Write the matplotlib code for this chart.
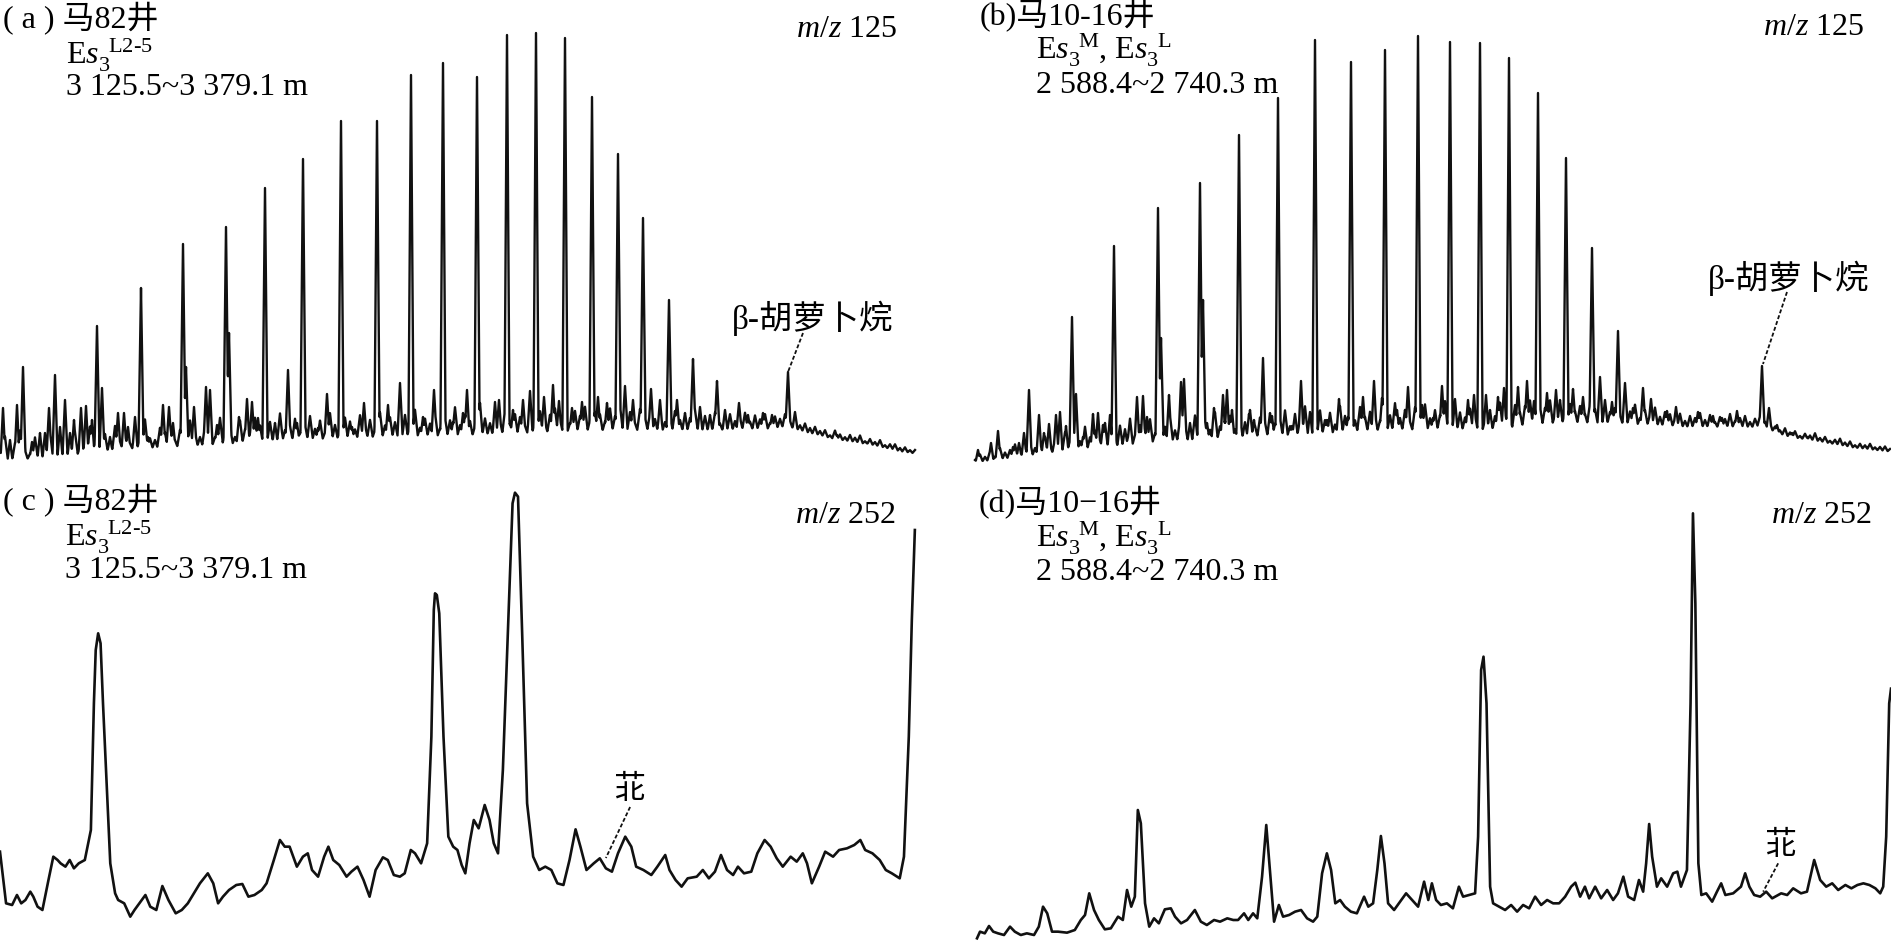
import numpy as np
import matplotlib.pyplot as plt

plt.rcParams['font.family'] = ['Liberation Serif', 'Noto Sans CJK SC']
plt.rcParams['mathtext.fontset'] = 'custom'
plt.rcParams['mathtext.rm'] = 'Liberation Serif'
plt.rcParams['mathtext.it'] = 'Liberation Serif:italic'

# ---------------- (a) 马82井 m/z 125 ----------------
a_base_x = [0, 67, 133, 200, 267, 333, 400, 470, 570, 637, 703, 770, 787, 803, 837, 870, 903, 915]
a_base_y = [8, 13, 20, 23, 27, 30, 32, 33, 37, 38, 38, 40, 42, 38, 30, 25, 18, 16]
a_major_x = [23, 55, 97, 141, 183, 226, 265, 303, 341, 377, 411, 443, 477, 507, 536, 565, 592, 618, 643, 669, 693, 717, 788]
a_major_y = [103, 95, 144, 182, 226, 243, 282, 311, 349, 349, 395, 407, 393, 435, 437, 432, 373, 316, 252, 170, 111, 89, 98]
a_noise_x = [3, 10, 17, 32, 40, 45, 49, 60, 65, 70, 74, 81, 86, 92, 102, 110, 118, 124, 128, 135, 148, 163, 169, 173,
             186, 194, 206, 210, 217, 229, 239, 247, 252, 258, 275, 281, 288, 297, 318, 327, 352, 364, 388, 400, 423,
             434, 453, 463, 467, 480, 495, 499, 513, 523, 530, 544, 553, 559, 572, 582, 598, 607, 625, 633, 651, 660,
             677, 685, 700, 710, 725, 739, 748, 763, 772, 795, 810, 837, 867, 900]
a_noise_y = [62, 30, 65, 28, 37, 37, 62, 43, 70, 37, 50, 62, 64, 50, 82, 33, 57, 57, 43, 53, 33, 65, 63, 47,
             103, 63, 83, 80, 45, 137, 53, 71, 68, 52, 47, 44, 100, 47, 42, 76, 43, 67, 65, 87, 53,
             80, 48, 57, 80, 67, 68, 70, 60, 70, 79, 73, 85, 69, 62, 68, 73, 67, 84, 70, 81, 70,
             70, 57, 63, 55, 60, 67, 55, 57, 55, 58, 42, 35, 27, 22]
# fine background jitter above the baseline, one value per 5 scans from scan 0
a_fine = [12, 25, 8, 18, 30, 10, 6, 22, 15, 9, 27, 14, 7, 20, 11, 24, 9, 16, 28, 12,
          8, 19, 13, 26, 10, 17, 7, 23, 14, 30, 11, 9, 21, 16, 25, 8, 18, 12, 27, 15,
          10, 22, 17, 9, 28, 13, 19, 8, 24, 15, 11, 26, 18, 9, 21, 14, 29, 12, 16, 23,
          9, 17, 25, 12, 20, 8, 27, 15, 11, 22, 18, 10, 24, 14, 19, 9, 26, 13, 21, 16,
          11, 23, 15, 28, 10, 19, 14, 25, 9, 20, 17, 30, 12, 22, 16, 11, 27, 18, 13, 24,
          15, 26, 12, 21, 18, 9, 28, 16, 23, 11, 19, 25, 14, 29, 10, 22, 17, 26, 13, 20,
          18, 11, 24, 16, 27, 12, 20, 9, 23, 15, 19, 13, 25, 10, 17, 21, 12, 18, 14, 22,
          9, 16, 12, 19, 8, 14, 17, 10, 13, 18, 9, 15, 11, 16, 7, 13, 10, 14, 8, 12,
          6, 9, 4, 8, 5, 7, 3, 9, 6, 4, 7, 5, 8, 3, 6, 4, 7, 3, 5, 6, 2, 5, 3, 4]

# ---------------- (b) 马10-16井 m/z 125 ----------------
b_base_x = [25, 77, 110, 143, 177, 210, 277, 343, 410, 490, 537, 603, 670, 737, 803, 810, 837, 870, 903, 940]
b_base_y = [7, 13, 17, 20, 23, 27, 30, 33, 37, 39, 38, 45, 45, 42, 42, 43, 33, 28, 22, 18]
b_major_x = [79, 122, 164, 208, 250, 289, 328, 365, 401, 435, 468, 500, 530, 559, 588, 616, 642, 668, 812]
b_major_y = [80, 153, 224, 262, 287, 335, 372, 430, 408, 420, 434, 428, 427, 412, 377, 312, 222, 139, 104]
b_noise_x = [28, 41, 48, 63, 69, 74, 89, 94, 99, 106, 110, 116, 126, 133, 143, 148, 153, 160, 170, 178, 187, 193,
             197, 211, 219, 231, 234, 240, 253, 257, 264, 273, 277, 282, 299, 304, 313, 322, 342, 351, 360, 377,
             389, 398, 413, 424, 432, 447, 458, 472, 483, 492, 505, 510, 518, 524, 536, 540, 548, 554, 568, 577,
             584, 597, 606, 610, 623, 633, 650, 655, 662, 675, 683, 693, 701, 717, 726, 748, 763, 772, 787, 795,
             819, 827, 842, 857, 895]
b_noise_y = [20, 27, 39, 23, 27, 37, 55, 37, 46, 55, 58, 44, 76, 33, 56, 57, 45, 55, 37, 33, 73, 74,
             53, 132, 75, 88, 91, 47, 170, 47, 62, 75, 80, 60, 56, 50, 112, 54, 44, 89, 58, 50,
             71, 53, 73, 89, 72, 60, 83, 65, 52, 84, 71, 55, 70, 75, 75, 60, 73, 82, 83, 89,
             69, 77, 80, 70, 81, 73, 93, 70, 68, 87, 62, 82, 71, 59, 63, 58, 54, 52, 59, 53,
             62, 45, 37, 33, 27]
# fine background jitter, one value per 5 scans from scan 25
b_fine = [3, 8, 5, 10, 4, 12, 7, 9, 14, 6, 11, 16, 8, 13, 18, 9, 15, 11, 20, 12,
          17, 10, 24, 13, 19, 9, 26, 15, 12, 22, 18, 28, 11, 20, 14, 25, 10, 21, 16, 27,
          12, 23, 18, 9, 26, 15, 20, 11, 28, 14, 19, 24, 10, 22, 17, 29, 13, 21, 16, 25,
          14, 20, 27, 11, 23, 17, 30, 12, 19, 25, 15, 22, 10, 28, 18, 24, 13, 26, 16, 21,
          19, 12, 26, 17, 29, 14, 22, 10, 24, 18, 27, 13, 21, 16, 30, 11, 25, 19, 14, 23,
          17, 26, 12, 21, 15, 28, 19, 11, 24, 16, 22, 27, 13, 20, 18, 25, 10, 23, 15, 21,
          14, 19, 11, 22, 16, 9, 20, 13, 17, 10, 18, 14, 21, 8, 16, 12, 19, 10, 15, 13,
          9, 14, 7, 12, 10, 15, 8, 13, 6, 11, 9, 14, 7, 10, 12, 6, 9, 11, 7, 8,
          6, 4, 8, 5, 7, 3, 6, 5, 8, 4, 6, 3, 5, 7, 4, 6, 3, 5, 4, 6, 3, 4, 5, 3]

# ---------------- (c) 马82井 m/z 252 ----------------
c_x = [0, 10, 20, 28, 35, 42, 50, 55, 62, 70, 80, 88, 95, 100, 108, 115, 122, 130, 140, 150, 155, 158, 162, 166,
       170, 175, 182, 190, 195, 205, 215, 222, 230, 240, 248, 258, 268, 278, 290, 300, 310, 320, 330, 343, 352,
       360, 368, 378, 390, 400, 410, 420, 432, 440, 452, 462, 470, 478, 490, 500, 508, 515, 525, 535, 542, 550,
       560, 572, 580, 590, 600, 610, 620, 632, 640, 650, 660, 668, 678, 685, 695, 705, 712, 716, 718, 721, 725,
       732, 740, 748, 755, 762, 768, 775, 782, 790, 800, 808, 815, 822, 830, 840, 846, 850, 855, 862, 870, 880,
       890, 900, 910, 920, 930, 940, 950, 958, 968, 980, 990, 1000, 1010, 1020, 1032, 1042, 1050, 1062, 1075,
       1085, 1098, 1105, 1115, 1125, 1135, 1150, 1160, 1170, 1180, 1190, 1200, 1210, 1218, 1228, 1240, 1250,
       1262, 1272, 1282, 1292, 1305, 1315, 1325, 1332, 1340, 1352, 1362, 1375, 1385, 1398, 1410, 1420, 1428,
       1440, 1452, 1462, 1472, 1485, 1492, 1500, 1505, 1510]
c_y = [271, 116, 111, 141, 116, 126, 151, 136, 106, 96, 186, 256, 246, 236, 226, 246, 221, 236, 246, 336, 716, 876,
       926, 896, 716, 516, 236, 146, 126, 116, 76, 96, 116, 141, 106, 96, 168, 126, 86, 96, 116, 146, 176, 206,
       176, 116, 136, 156, 171, 174, 136, 141, 156, 176, 246, 306, 286, 286, 226, 256, 266, 216, 196, 256, 286,
       246, 231, 196, 211, 226, 186, 136, 216, 254, 246, 201, 196, 206, 276, 266, 236, 296, 616, 996, 1046, 1041,
       986, 616, 316, 286, 276, 231, 206, 296, 366, 341, 411, 366, 296, 266, 516, 1016, 1316, 1348, 1336, 916,
       416, 256, 216, 226, 216, 176, 171, 246, 338, 286, 216, 236, 251, 221, 211, 266, 316, 286, 226, 216, 201,
       226, 261, 216, 186, 166, 191, 196, 216, 191, 211, 261, 216, 201, 226, 206, 211, 266, 306, 286, 251, 226,
       256, 241, 266, 236, 176, 226, 271, 256, 276, 281, 291, 306, 276, 266, 246, 216, 206, 191, 256, 616, 966,
       1236]

# ---------------- (d) 马10-16井 m/z 252 ----------------
d_x = [45, 50, 58, 65, 72, 80, 90, 100, 108, 118, 128, 140, 148, 155, 162, 170, 180, 195, 208, 218, 225, 232, 240,
       248, 258, 268, 280, 288, 295, 302, 308, 313, 318, 325, 332, 340, 348, 358, 368, 375, 385, 395, 408, 418,
       428, 440, 450, 462, 472, 480, 490, 497, 505, 512, 520, 527, 533, 540, 548, 555, 565, 575, 585, 595, 605,
       612, 620, 628, 635, 642, 650, 658, 668, 678, 690, 697, 705, 712, 718, 724, 730, 740, 752, 760, 770, 780,
       790, 797, 803, 810, 818, 828, 838, 848, 855, 865, 875, 880, 885, 889, 894, 900, 905, 915, 925, 935, 945,
       955, 965, 975, 985, 995, 1005, 1015, 1025, 1035, 1042, 1050, 1058, 1065, 1075, 1085, 1095, 1105, 1113,
       1122, 1130, 1140, 1148, 1155, 1160, 1165, 1170, 1178, 1185, 1195, 1205, 1212, 1218, 1228, 1234, 1238,
       1242, 1247, 1252, 1260, 1270, 1278, 1285, 1292, 1305, 1318, 1325, 1332, 1340, 1350, 1360, 1370, 1385,
       1395, 1405, 1418, 1428, 1440, 1450, 1460, 1470, 1480, 1492, 1502, 1512, 1522, 1532, 1542, 1550, 1555,
       1560, 1565, 1568]
d_y = [11, 31, 26, 48, 31, 26, 21, 46, 31, 21, 26, 21, 46, 106, 86, 31, 31, 28, 36, 66, 81, 146, 96,
       66, 38, 41, 76, 66, 156, 106, 136, 396, 356, 116, 46, 71, 56, 98, 101, 76, 56, 66, 96, 61,
       51, 66, 61, 71, 66, 66, 86, 66, 86, 71, 196, 351, 216, 61, 111, 76, 81, 91, 96, 71, 61,
       76, 206, 266, 216, 116, 126, 106, 91, 86, 136, 106, 116, 216, 318, 236, 116, 96, 126, 146, 126, 106,
       181, 126, 176, 126, 111, 116, 101, 166, 136, 141, 146, 316, 816, 856, 716, 166, 116, 106, 96, 111, 91,
       111, 101, 136, 111, 126, 116, 116, 136, 166, 178, 136, 166, 131, 166, 131, 156, 126, 146,
       196, 136, 126, 186, 151, 236, 354, 256, 166, 191, 166, 206, 211, 166, 216, 716, 1286,
       1016, 236, 141, 146, 121, 151, 176, 141, 146, 166, 206, 166, 141, 136, 151, 131, 146,
       141, 161, 146, 151, 246, 186, 166, 176, 156, 171, 161, 171, 176, 171, 161, 146, 166,
       316, 716, 760]


def build_trace(base_x, base_y, fine, peak_x, peak_y, half_w):
    # baseline + jitter + narrow triangular spikes
    x = np.arange(base_x[0], base_x[-1] + 0.25, 0.25)
    base = np.interp(x, base_x, base_y)
    y = base.copy()
    fine_x = base_x[0] + 5 * np.arange(len(fine))
    for fx, fh in zip(fine_x, fine):
        y = np.maximum(y, base + fh * np.clip(1 - np.abs(x - fx) / 3.0, 0, None))
    for px, py in zip(peak_x, peak_y):
        b0 = np.interp(px, base_x, base_y)
        y = np.maximum(y, base + (py - b0) * np.clip(1 - np.abs(x - px) / half_w, 0, None))
    return x, y


fig = plt.figure(figsize=(18.91, 9.42), dpi=100)
W, H = 1891, 942
ax_a = fig.add_axes([0, 472 / H, 950 / W, 470 / H])
ax_b = fig.add_axes([950 / W, 472 / H, 941 / W, 470 / H])
ax_c = fig.add_axes([0, 0, 950 / W, 472 / H])
ax_d = fig.add_axes([950 / W, 0, 941 / W, 472 / H])

ax_a.set_xlim(0, 950); ax_a.set_ylim(0, 470)
ax_b.set_xlim(0, 941); ax_b.set_ylim(0, 470)
ax_c.set_xlim(0, 1568); ax_c.set_ylim(0, 1416)
ax_d.set_xlim(0, 1568); ax_d.set_ylim(0, 1416)

lc = '#111111'

xa, ya = build_trace(a_base_x, a_base_y, a_fine, a_major_x + a_noise_x, a_major_y + a_noise_y, 2.6)
ax_a.plot(xa, ya, color=lc, lw=1.7)
xb, yb = build_trace(b_base_x, b_base_y, b_fine, b_major_x + b_noise_x, b_major_y + b_noise_y, 2.6)
ax_b.plot(xb, yb, color=lc, lw=1.7)

ax_c.plot(c_x, c_y, color=lc, lw=1.9)
ax_d.plot(d_x, d_y, color=lc, lw=1.9)

for ax in (ax_a, ax_b, ax_c, ax_d):
    ax.axis('off')

hs = 23  # header font size
ls_dash = (0, (2.2, 1.2))
sty_l2_5 = r'E$s_{3}^{\;\;\mathrm{L2\text{-}5}}$'
sty_ml = r'E$s_{3}^{\;\;\mathrm{M}}$, E$s_{3}^{\;\;\mathrm{L}}$'

# panel a
ax_a.text(0.003, 0.940, '( a ) 马82井', transform=ax_a.transAxes, fontsize=hs, va='baseline')
ax_a.text(0.070, 0.862, sty_l2_5, transform=ax_a.transAxes, fontsize=hs, va='baseline')
ax_a.text(0.070, 0.798, '3 125.5~3 379.1 m', transform=ax_a.transAxes, fontsize=hs, va='baseline')
ax_a.text(0.944, 0.921, r'$m/z$ 125', transform=ax_a.transAxes, fontsize=hs, va='baseline', ha='right')
ax_a.text(813, 152, 'β-胡萝卜烷', fontsize=24, ha='center', va='center')
ax_a.plot([803, 788], [137, 98], color=lc, lw=1.3, ls=ls_dash)

# panel b
ax_b.text(0.032, 0.947, '(b)马10-16井', transform=ax_b.transAxes, fontsize=hs, va='baseline')
ax_b.text(0.091, 0.873, sty_ml, transform=ax_b.transAxes, fontsize=hs, va='baseline')
ax_b.text(0.091, 0.802, '2 588.4~2 740.3 m', transform=ax_b.transAxes, fontsize=hs, va='baseline')
ax_b.text(0.971, 0.926, r'$m/z$ 125', transform=ax_b.transAxes, fontsize=hs, va='baseline', ha='right')
ax_b.text(839, 192, 'β-胡萝卜烷', fontsize=24, ha='center', va='center')
ax_b.plot([837, 813], [178, 106], color=lc, lw=1.3, ls=ls_dash)

# panel c
ax_c.text(0.003, 0.915, '( c ) 马82井', transform=ax_c.transAxes, fontsize=hs, va='baseline')
ax_c.text(0.068, 0.838, sty_l2_5, transform=ax_c.transAxes, fontsize=hs, va='baseline')
ax_c.text(0.068, 0.771, '3 125.5~3 379.1 m', transform=ax_c.transAxes, fontsize=hs, va='baseline')
ax_c.text(0.943, 0.888, r'$m/z$ 252', transform=ax_c.transAxes, fontsize=hs, va='baseline', ha='right')
ax_c.text(1040, 456, '苝', fontsize=23, ha='center', va='center')
ax_c.plot([1040, 1000], [405, 252], color=lc, lw=1.3, ls=ls_dash)

# panel d
ax_d.text(0.030, 0.911, '(d)马10−16井', transform=ax_d.transAxes, fontsize=hs, va='baseline')
ax_d.text(0.091, 0.836, sty_ml, transform=ax_d.transAxes, fontsize=hs, va='baseline')
ax_d.text(0.091, 0.767, '2 588.4~2 740.3 m', transform=ax_d.transAxes, fontsize=hs, va='baseline')
ax_d.text(0.980, 0.888, r'$m/z$ 252', transform=ax_d.transAxes, fontsize=hs, va='baseline', ha='right')
ax_d.text(1385, 288, '苝', fontsize=23, ha='center', va='center')
ax_d.plot([1380, 1355], [236, 151], color=lc, lw=1.3, ls=ls_dash)

fig.savefig('out.png', dpi=100, facecolor='white')
